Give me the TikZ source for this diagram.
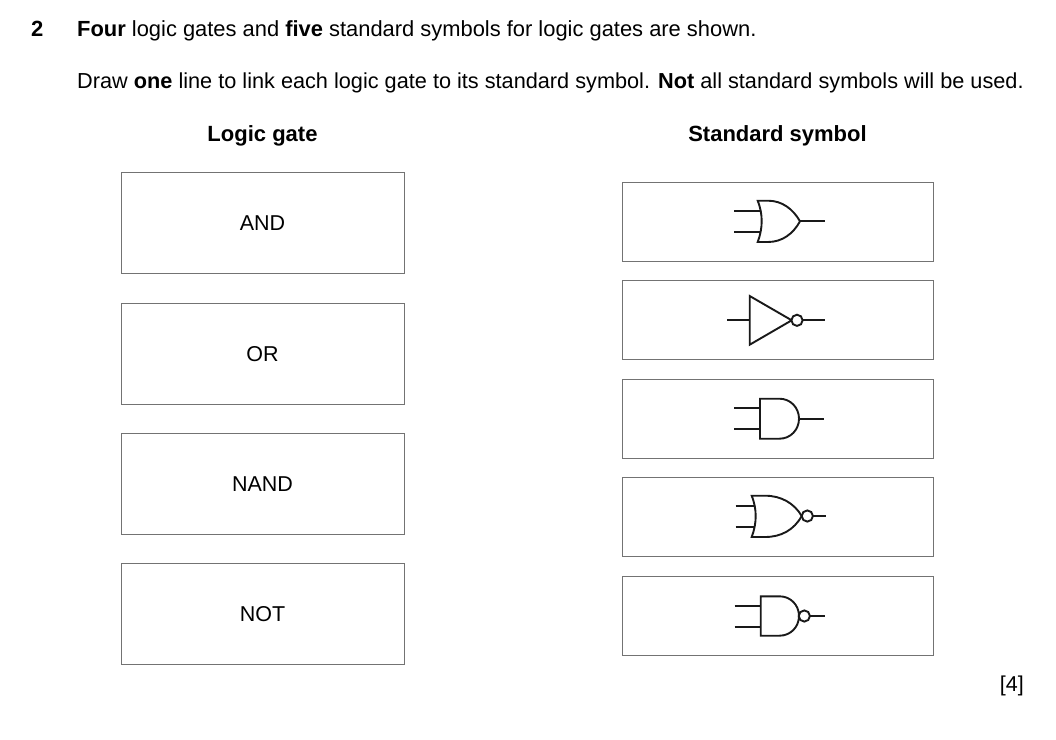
\documentclass[tikz,border=0pt]{standalone}
\usepackage{fontspec}
\setmainfont{Liberation Sans}
\tikzset{
  gatebox/.style={draw=black!55,line width=0.9pt,fill=white,inner sep=0pt,minimum width=283pt,minimum height=101.5pt,font=\fontsize{21.5}{26}\selectfont},
  symbox/.style={draw=black!55,line width=0.9pt,fill=white,inner sep=0pt,minimum width=311pt,minimum height=79pt},
  txt/.style={inner sep=0pt,anchor=base west,font=\fontsize{21.5}{26}\selectfont},
  head/.style={inner sep=0pt,anchor=base,font=\fontsize{22}{26}\selectfont\bfseries},
  gate/.style={draw=black!90,line width=1.9pt,line join=miter}
}
\begin{document}
\begin{tikzpicture}[x=1pt,y=-1pt]
\useasboundingbox (0,0) rectangle (1056,739);
\fill[white] (0,0) rectangle (1056,739);
\node[txt,font=\fontsize{22}{26}\selectfont\bfseries] (num) at (31,36) {2};
\node[txt,font=\fontsize{21.9}{26}\selectfont] (l1) at (77,36) {\textbf{Four} logic gates and \textbf{five} standard symbols for logic gates are shown.};
\node[txt,font=\fontsize{21.7}{26}\selectfont] (l2) at (77,88) {Draw \textbf{one} line to link each logic gate to its standard symbol. \textbf{Not} all standard symbols will be used.};
\node[head] (hl) at (262.5,141) {Logic gate};
\node[head] (hr) at (777.5,141) {Standard symbol};
\node[gatebox] (g1) at (262.5,222.8) {AND};
\node[gatebox] (g2) at (262.5,353.8) {OR};
\node[gatebox] (g3) at (262.5,483.8) {NAND};
\node[gatebox] (g4) at (262.5,613.8) {NOT};
\node[symbox] (s1) at (777.5,221.8) {};
\node[symbox] (s2) at (777.5,320.2) {};
\node[symbox] (s3) at (777.5,418.7) {};
\node[symbox] (s4) at (777.5,517.2) {};
\node[symbox] (s5) at (777.5,615.7) {};
\node[txt,anchor=base east] (mark) at (1024,691) {[4]};
% OR
\draw[gate] (734.3,210.7) -- (761,210.7) (734.3,232) -- (761,232) (800,221.3) -- (825,221.3);
\draw[gate,fill=white] (757.7,200.7) .. controls (763,214) and (763,228) .. (757.7,242)
  -- (768,242) .. controls (782,242) and (793,234) .. (800,221.3)
  .. controls (793,209) and (782,200.7) .. (768,200.7) -- cycle;
% NOT
\draw[gate] (727.3,320.3) -- (749.7,320.3) (802.7,320.3) -- (825,320.3);
\draw[gate,fill=white] (749.7,296) -- (791.7,320.3) -- (749.7,344.7) -- cycle;
\node[gate,circle,fill=white,inner sep=0pt,minimum size=11.2pt] (c2) at (797,320.3) {};
% AND
\draw[gate] (734,408) -- (760,408) (734,429.3) -- (760,429.3) (799,418.7) -- (824.3,418.7);
\draw[gate,fill=white] (760,398.7) -- (779.5,398.7) .. controls (790.5,398.7) and (799,407.7) .. (799,418.7) .. controls (799,429.7) and (790.5,438.7) .. (779.5,438.7) -- (760,438.7) -- cycle;
% NOR
\draw[gate] (735.7,505.7) -- (756,505.7) (735.7,526.7) -- (756,526.7) (812.5,516) -- (826,516);
\draw[gate,fill=white] (751.7,495.7) .. controls (757,509) and (757,523) .. (751.7,537)
  -- (765,537) .. controls (781,537) and (794,530) .. (801.7,516)
  .. controls (794,503) and (781,495.7) .. (765,495.7) -- cycle;
\node[gate,circle,fill=white,inner sep=0pt,minimum size=11.2pt] (c4) at (807.3,516) {};
% NAND
\draw[gate] (734.7,605.7) -- (760.7,605.7) (734.7,627) -- (760.7,627) (809.5,616) -- (825,616);
\draw[gate,fill=white] (760.7,596.3) -- (779.5,596.3) .. controls (790.5,596.3) and (799,605) .. (799,616) .. controls (799,627) and (790.5,635.7) .. (779.5,635.7) -- (760.7,635.7) -- cycle;
\node[gate,circle,fill=white,inner sep=0pt,minimum size=11.2pt] (c5) at (804.3,616) {};
\end{tikzpicture}
\end{document}
